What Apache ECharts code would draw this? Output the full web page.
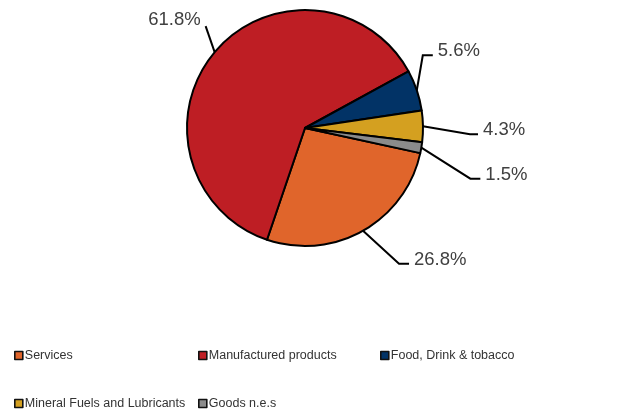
<!DOCTYPE html>
<html>
<head>
<meta charset="utf-8">
<script src="https://cdn.jsdelivr.net/npm/echarts@6/dist/echarts.min.js"></script>
<style>html,body{margin:0;padding:0;background:#fff}#c{width:617px;height:410px}</style>
</head>
<body>
<div id="c"></div>
<script>
// Data
const categories = ['Services', 'Manufactured products', 'Food, Drink & tobacco', 'Mineral Fuels and Lubricants', 'Goods n.e.s'];
const values = [26.8, 61.8, 5.6, 4.3, 1.5];
const colors = ['#E0652B', '#BE1E24', '#023366', '#D4A020', '#8B8B8B'];

// Label leader styling (elbow offset from slice edge, horizontal tail, side)
const leader = [
  { dx: 36, dy: 33, tail: 10, side: 'right' },
  { dx: -9, dy: -26, tail: 0, side: 'left' },
  { dx: 6, dy: -35, tail: 10, side: 'right' },
  { dx: 47, dy: 8, tail: 8, side: 'right' },
  { dx: 49, dy: 31, tail: 10, side: 'right' }
];
// Legend grid (left, top) per item
const legendPos = [[14, 349], [198, 349], [380, 349], [14, 397], [198, 397]];

const chart = echarts.init(document.getElementById('c'));
const data = categories.map((n, i) => ({ name: n, value: values[i], itemStyle: { color: colors[i] } }));

const legends = categories.map((n, i) => ({
  data: [n],
  left: legendPos[i][0],
  top: legendPos[i][1],
  orient: 'horizontal',
  itemWidth: 8,
  itemHeight: 8,
  icon: 'rect',
  padding: 0,
  selectedMode: false,
  itemStyle: { borderColor: '#111', borderWidth: 1.6 },
  textStyle: { fontFamily: 'Liberation Sans, Arial', fontSize: 12.5, color: '#333', padding: [0, 0, 0, -3] }
}));

chart.setOption({
  animation: false,
  backgroundColor: '#fff',
  legend: legends,
  series: [{
    type: 'pie',
    center: [305, 128],
    radius: 118,
    startAngle: -12.3,
    clockwise: true,
    avoidLabelOverlap: false,
    data: data,
    itemStyle: { borderColor: '#000', borderWidth: 2 },
    label: {
      show: true,
      position: 'outside',
      formatter: p => p.value.toFixed(1) + '%',
      fontFamily: 'Liberation Sans, Arial',
      fontSize: 18.5,
      color: '#404040'
    },
    labelLine: { show: true, length: 10, length2: 10, lineStyle: { color: '#000', width: 2 } },
    labelLayout: function (params) {
      const i = params.dataIndex;
      const L = leader[i];
      const p0 = params.labelLinePoints[0];
      const p1 = [p0[0] + L.dx, p0[1] + L.dy];
      const sgn = L.side === 'right' ? 1 : -1;
      const p2 = [p1[0] + sgn * L.tail, p1[1]];
      const yOff = L.side === 'right' ? -4 : -6;
      return {
        x: p2[0] + sgn * 5,
        y: p2[1] + yOff,
        align: L.side === 'right' ? 'left' : 'right',
        verticalAlign: 'middle',
        labelLinePoints: [p0, p1, p2]
      };
    },
    emphasis: { disabled: true }
  }]
});
</script>
</body>
</html>
